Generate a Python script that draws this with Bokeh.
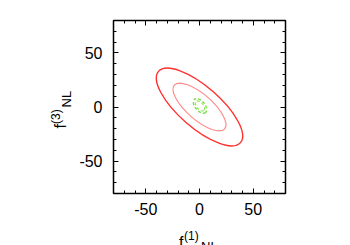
import numpy as np
from bokeh.plotting import figure
from bokeh.models import FixedTicker, LinearAxis, Label, Range1d
from bokeh.embed import file_html
from bokeh.resources import INLINE

# ---- data ----
ticks = [-50, 0, 50]
tick_labels = ["-50", "0", "50"]
minor_ticks = [-80, -70, -60, -50, -40, -30, -20, -10, 0, 10, 20, 30, 40, 50, 60, 70, 80]
# confidence ellipses: centre x, centre y, full width, full height, angle (deg)
ell_x = [0.0, 0.0, 0.5, 0.5]
ell_y = [0.0, 0.0, 1.0, 1.0]
ell_w = [101.0, 62.0, 16.0, 11.0]
ell_h = [38.0, 23.5, 9.0, 6.0]
ell_ang = [-41.0, -41.0, -50.0, -50.0]
ell_col = ["#ff3030", "#ff8c8c", "#77dd44", "#99e866"]
ell_dash = ["solid", "solid", "3 2", "3 2"]
ell_lw = [1.4, 1.2, 1.4, 1.2]

FONT = "Liberation Sans"
FL, FT, FW, FH = 113, 20, 172, 173   # frame left/top/width/height on the page
XMIN, XMAX, YMIN, YMAX = -80, 80, -80, 80

p = figure(frame_width=FW, frame_height=FH, output_backend="svg", toolbar_location=None,
           x_range=Range1d(XMIN, XMAX), y_range=Range1d(YMIN, YMAX),
           min_border_left=FL, min_border_right=350 - FL - FW, min_border_top=FT,
           min_border_bottom=245 - FT - FH)
p.background_fill_color = "white"
p.border_fill_color = "white"
p.outline_line_color = "black"
p.outline_line_width = 1.5
p.xgrid.visible = False
p.ygrid.visible = False

def style(ax, show_labels=True, standoff=10):
    ax.ticker = FixedTicker(ticks=ticks, minor_ticks=minor_ticks)
    ax.axis_line_color = None
    ax.major_tick_in = 5
    ax.major_tick_out = 0
    ax.minor_tick_in = 3
    ax.minor_tick_out = 0
    ax.major_tick_line_color = "black"
    ax.minor_tick_line_color = "black"
    ax.major_tick_line_width = 1
    ax.minor_tick_line_width = 1
    ax.major_label_text_font = FONT
    ax.major_label_text_font_size = "16px"
    ax.major_label_text_color = "black"
    ax.major_label_standoff = standoff
    if show_labels:
        ax.major_label_overrides = {t: s for t, s in zip(ticks, tick_labels)}
    else:
        ax.major_label_overrides = {t: "" for t in ticks}

style(p.xaxis[0], True, 9)
style(p.yaxis[0], True, 11)
top = LinearAxis()
right = LinearAxis()
style(top, False)
style(right, False)
p.add_layout(top, "above")
p.add_layout(right, "right")

for i in range(len(ell_x)):
    p.ellipse(x=[ell_x[i]], y=[ell_y[i]], width=[ell_w[i]], height=[ell_h[i]],
              angle=[np.deg2rad(ell_ang[i])], fill_color=None, line_color=ell_col[i],
              line_width=ell_lw[i], line_dash=ell_dash[i])

# page pixel -> data coordinates
def dx(px):
    return XMIN + (px - FL) * (XMAX - XMIN) / FW

def dy(py):
    return YMAX - (py - FT) * (YMAX - YMIN) / FH

# axis titles: labels placed in side panels so that they are not clipped to the frame
def lab(text, px, py, size, side, angle=0.0):
    p.add_layout(Label(x=dx(px), y=dy(py), text=text, text_font=FONT,
                       text_font_size=size, text_color="black",
                       text_baseline="alphabetic", text_align="left", angle=angle), side)

# x axis title: f^(1)_NL
lab("f", 178.5, 241.5, "16px", "right")
lab("(1)", 183.5, 235.5, "12px", "right")
lab("NL", 200.5, 245.5, "13px", "right")
# y axis title: f^(3)_NL (rotated)
a = np.pi / 2
lab("f", 60, 128, "16px", "left", a)
lab("(3)", 55, 123.5, "12px", "left", a)
lab("NL", 65.5, 107, "13px", "left", a)

open("out.html", "w").write(file_html(p, INLINE))
